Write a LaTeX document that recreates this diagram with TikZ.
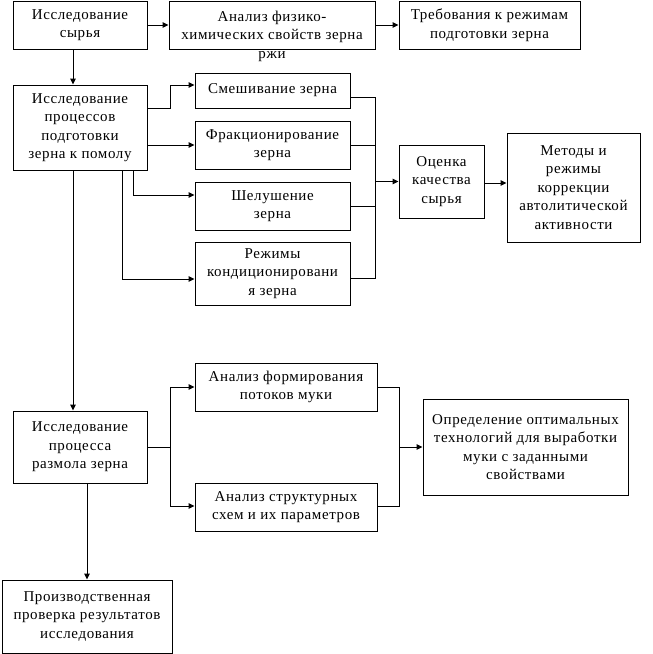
\documentclass[tikz,border=0pt]{standalone}
\usepackage{fontspec}
\setmainfont{Liberation Serif}[LetterSpace=4]
\usetikzlibrary{arrows.meta}
\begin{document}
\begin{tikzpicture}[x=1pt,y=-1pt,
  box/.style={draw, line width=1pt, inner sep=0pt, align=center,
    font=\fontsize{15}{18.5}\selectfont},
  lbl/.style={inner sep=0pt, align=center, font=\fontsize{15}{18.5}\selectfont},
  conn/.style={line width=1pt},
  arr/.style={line width=1pt, -{Triangle[length=6pt,width=5.5pt]}}]
\useasboundingbox (0,0) rectangle (653,654);
% top row
\node[box, minimum width=134pt, minimum height=48pt] (b1) at (80,25) {Исследование\\сырья};
\node[box, minimum width=206pt, minimum height=48pt] (b2) at (272,25) {};
\node[lbl] (t2) at (272,36) {Анализ физико-\\химических свойств зерна\\ржи};
\node[box, minimum width=181pt, minimum height=48pt] (b3) at (489.5,25) {Требования к режимам\\подготовки зерна};
% second block
\node[box, minimum width=134pt, minimum height=85pt] (b4) at (80,127.5) {Исследование\\процессов\\подготовки\\зерна к помолу};
\node[box, minimum width=155pt, minimum height=35pt] (b5) at (272.5,90.5) {Смешивание зерна};
\node[box, minimum width=155pt, minimum height=48pt] (b6) at (272.5,145) {Фракционирование\\зерна};
\node[box, minimum width=155pt, minimum height=48pt] (b7) at (272.5,206) {Шелушение\\зерна};
\node[box, minimum width=155pt, minimum height=63pt] (b8) at (272.5,273.5) {Режимы\\кондиционировани\\я зерна};
\node[box, minimum width=85pt, minimum height=73pt] (b9) at (441.5,181.5) {Оценка\\качества\\сырья};
\node[box, minimum width=133pt, minimum height=109pt] (b10) at (573.5,187.5) {Методы и\\режимы\\коррекции\\автолитической\\активности};
% third block
\node[box, minimum width=134pt, minimum height=72pt] (b11) at (80,447) {Исследование\\процесса\\размола зерна};
\node[box, minimum width=182pt, minimum height=48pt] (b12) at (286,387) {Анализ формирования\\потоков муки};
\node[box, minimum width=182pt, minimum height=48pt] (b13) at (286,507) {Анализ структурных\\схем и их параметров};
\node[box, minimum width=205pt, minimum height=96pt] (b14) at (525.5,447) {Определение оптимальных\\технологий для выработки\\муки с заданными\\свойствами};
\node[box, minimum width=170pt, minimum height=73pt] (b15) at (87,616.5) {Производственная\\проверка результатов\\исследования};
% junctions
\coordinate (j1t) at (375,97);
\coordinate (j1b) at (375,278);
\coordinate (j2) at (170,447);
\coordinate (j3) at (399,447);
% connectors top
\draw[arr] (b1.east) -- (b2.west);
\draw[arr] (b2.east) -- (b3.west);
\draw[arr] ([xshift=-7pt]b1.south) -- ([xshift=-7pt]b4.north);
% b4 fan-out
\draw[arr] ([yshift=19.5pt]b4.east) -- ++(23,0) |- ([yshift=5.5pt]b5.west);
\draw[arr] (b4.east |- b6.west) -- (b6.west);
\draw[arr] ([xshift=53pt]b4.south) |- ([yshift=11pt]b7.west);
\draw[arr] ([xshift=42pt]b4.south) |- ([yshift=-5.5pt]b8.west);
% collector
\draw[conn] ([yshift=-6.5pt]b5.east) -- (j1t) -- (j1b) -- ([yshift=-4.5pt]b8.east);
\draw[conn] (b6.east) -- (b6.east -| j1t);
\draw[conn] (b7.east) -- (b7.east -| j1t);
\draw[arr] (b9.west -| j1t) -- (b9.west);
\draw[arr] ([yshift=-1.5pt]b9.east) -- ([yshift=-1.5pt]b9.east -| b10.west);
% lower block
\draw[arr] ([xshift=-7pt]b4.south) -- ([xshift=-7pt]b11.north);
\draw[conn] (b11.east) -- (j2);
\draw[arr] (j2) |- (b12.west);
\draw[arr] (j2) |- ([yshift=1pt]b13.west);
\draw[conn] (b12.east) -| (j3);
\draw[conn] ([yshift=1pt]b13.east) -| (j3);
\draw[arr] (j3) -- (j3 -| b14.west);
\draw[arr] (b11.south -| b15.north) -- (b15.north);
\end{tikzpicture}
\end{document}
